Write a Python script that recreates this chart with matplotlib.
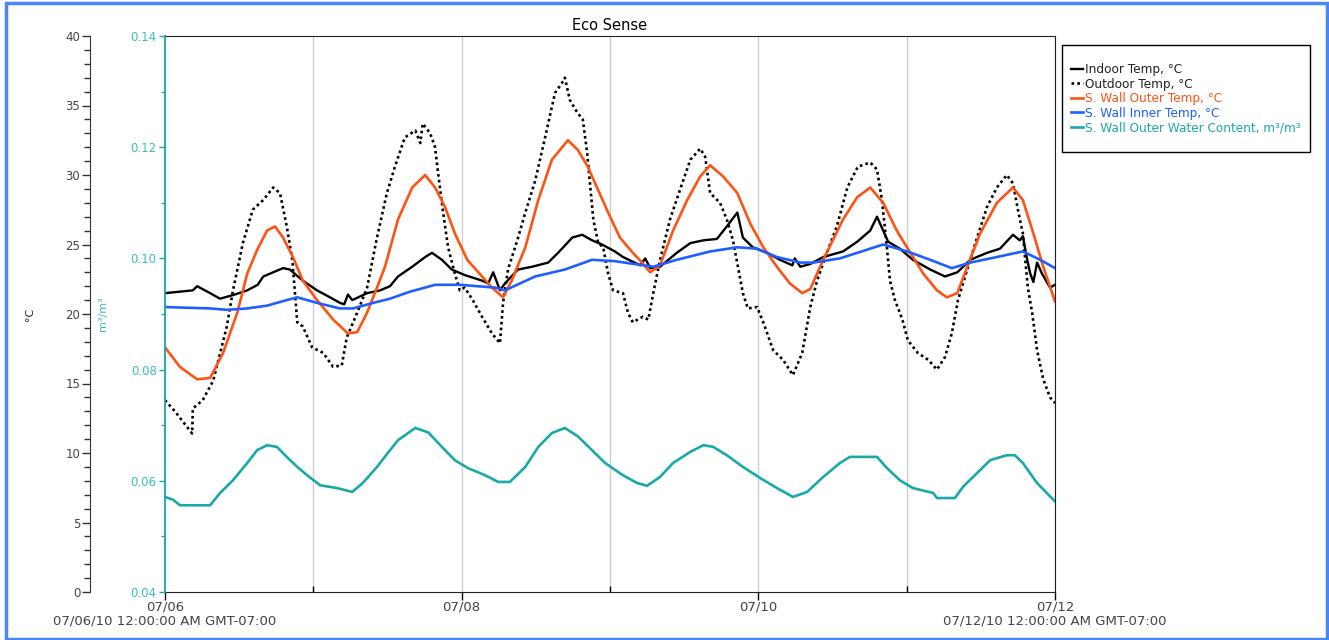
import matplotlib
matplotlib.use('Agg')
import matplotlib.pyplot as plt
from matplotlib.patches import Rectangle
from matplotlib.ticker import MultipleLocator, FixedLocator

# hours since 07/06/10 00:00 (GMT-07:00) and readings for each sensor
outdoor_h = [0.0, 1.6, 4.4, 4.5, 6.1, 7.8, 10.0, 11.0, 12.6, 14.2, 15.9, 17.5, 18.6, 19.7,
             20.6, 21.4, 22.3, 23.8, 25.6, 27.2, 28.6, 29.4, 31.1, 32.7, 34.3, 35.9, 37.2,
             38.8, 40.5, 41.3, 41.7, 42.9, 43.7, 44.2, 45.0, 45.8, 46.9, 47.7, 48.5, 49.8,
             51.3, 52.9, 54.2, 54.7, 55.5, 57.0, 58.3, 59.9, 61.5, 63.1, 64.2, 64.7, 65.5,
             66.7, 67.6, 68.3, 69.3, 70.1, 70.9, 71.7, 72.5, 74.1, 74.9, 75.7, 77.3, 78.2,
             79.0, 80.1, 81.7, 83.3, 85.0, 86.6, 87.4, 88.2, 89.8, 90.9, 91.9, 92.7, 93.5,
             94.3, 95.8, 96.8, 98.4, 100.0, 101.6, 103.1, 104.4, 105.5, 107.1, 108.7, 110.4,
             112.1, 114.1, 115.2, 116.0, 116.8, 117.3, 118.1, 119.3, 120.2, 121.8, 123.5,
             124.9, 126.2, 127.3, 128.3, 129.8, 131.4, 133.0, 134.6, 136.2, 137.2, 138.0,
             138.8, 139.6, 140.3, 141.1, 142.1, 143.2, 144.0]
outdoor_t = [13.8, 13.0, 11.4, 13.2, 13.8, 15.2, 19.1, 21.7, 25.1, 27.5, 28.2, 29.1, 28.7, 26.3,
             23.9, 19.4, 19.1, 17.6, 17.2, 16.2, 16.3, 18.3, 20.1, 21.9, 25.5, 28.7, 30.6,
             32.7, 33.2, 32.3, 33.7, 33.0, 32.0, 30.1, 27.3, 24.8, 22.9, 21.7, 21.9, 21.0,
             19.8, 18.6, 17.9, 20.8, 23.2, 25.3, 27.3, 29.6, 32.7, 35.9, 36.6, 37.0, 35.4,
             34.5, 34.0, 31.6, 26.8, 25.1, 24.8, 22.9, 21.7, 21.5, 20.1, 19.4, 19.8, 19.6,
             21.5, 23.9, 26.8, 28.9, 31.1, 31.9, 31.3, 28.7, 28.0, 26.8, 25.3, 23.4, 21.5,
             20.4, 20.5, 19.4, 17.4, 16.7, 15.6, 17.2, 20.5, 22.4, 24.4, 26.3, 29.1,
             30.6, 30.9, 30.4, 28.2, 24.8, 22.4, 21.0, 19.6, 18.1, 17.2, 16.7,
             16.0, 16.9, 18.6, 21.0, 23.2, 25.5, 27.7, 29.1, 30.0, 29.4, 27.5,
             25.8, 21.9, 20.1, 17.4, 15.3, 14.0, 13.6]

indoor_h = [0.0, 4.5, 5.2, 7.3, 8.9, 11.3, 13.3, 15.0, 15.9, 17.5, 19.1, 20.2, 22.3, 24.6,
            26.7, 28.3, 29.0, 29.6, 30.3, 32.7, 34.8, 36.4, 37.7, 40.0, 42.1, 43.2, 44.8,
            46.4, 48.5, 51.3, 52.3, 53.1, 54.2, 55.0, 57.1, 59.4, 62.0, 63.6, 65.9, 67.5,
            69.1, 70.7, 72.8, 74.1, 76.9, 77.7, 78.5, 80.1, 82.8, 85.0, 87.1, 89.3, 90.9,
            92.6, 93.5, 95.1, 97.4, 99.5, 101.5, 101.9, 102.8, 104.4, 106.5, 109.7, 112.0,
            114.1, 115.2, 116.2, 117.0, 118.9, 121.0, 123.8, 126.2, 128.2, 130.3, 133.0,
            135.1, 137.2, 138.3, 138.8, 139.5, 140.0, 140.5, 141.1, 141.9, 143.2, 144.0]
indoor_t = [21.5, 21.7, 22.0, 21.5, 21.1, 21.4, 21.7, 22.1, 22.7, 23.0, 23.3, 23.2, 22.4, 21.7,
            21.2, 20.8, 20.7, 21.4, 21.0, 21.5, 21.7, 22.0, 22.7, 23.4, 24.1, 24.4, 23.9,
            23.2, 22.8, 22.4, 22.2, 23.0, 21.7, 22.2, 23.2, 23.4, 23.7, 24.4, 25.5, 25.7,
            25.3, 25.0, 24.5, 24.1, 23.5, 24.0, 23.3, 23.4, 24.4, 25.1, 25.3, 25.4, 26.3,
            27.3, 25.5, 24.8, 24.4, 23.9, 23.5, 24.0, 23.4, 23.6, 24.1, 24.5, 25.2,
            26.0, 27.0, 26.0, 25.2, 24.7, 23.9, 23.2, 22.7, 23.0, 23.9, 24.4,
            24.7, 25.7, 25.3, 25.6, 23.9, 22.9, 22.3, 23.7, 22.9, 21.9, 22.1]

outer_h = [0.0, 2.4, 5.2, 7.3, 9.4, 11.7, 13.3, 14.9, 16.5, 17.8, 19.1, 20.7, 22.3, 24.6, 27.2,
           29.6, 31.1, 32.7, 34.3, 35.6, 37.7, 40.0, 42.1, 43.7, 45.3, 46.9, 48.9, 51.3, 52.9,
           54.7, 56.1, 58.3, 60.4, 62.6, 65.2, 66.8, 68.4, 70.1, 71.7, 73.6, 75.7, 77.2, 78.5,
           80.1, 82.2, 84.5, 86.6, 88.2, 90.3, 92.6, 94.7, 96.8, 99.0, 101.1, 103.1, 104.4,
           106.5, 109.7, 112.0, 114.1, 116.2, 118.4, 120.6, 122.7, 124.9, 126.5, 128.2,
           129.8, 131.9, 134.6, 137.2, 138.8, 140.5, 142.1, 144.0]
outer_t = [17.6, 16.2, 15.3, 15.4, 17.2, 20.1, 22.9, 24.6, 26.0, 26.3, 25.5, 24.1, 22.4, 21.0, 19.6,
           18.6, 18.7, 20.1, 21.9, 23.4, 26.8, 29.1, 30.0, 29.1, 27.7, 25.8, 23.9, 22.7, 21.9,
           21.2, 22.4, 24.8, 28.2, 31.1, 32.5, 31.8, 30.6, 28.9, 27.3, 25.5, 24.4, 23.7, 23.0,
           23.5, 26.0, 28.2, 29.9, 30.7, 29.9, 28.7, 26.5, 24.8, 23.4, 22.2, 21.5, 21.8,
           23.9, 26.8, 28.4, 29.1, 28.0, 26.0, 24.4, 22.9, 21.7, 21.2, 21.5,
           23.4, 25.8, 28.0, 29.1, 28.2, 25.8, 23.4, 20.9]

inner_h = [0.0, 7.3, 10.0, 13.3, 16.5, 19.7, 21.4, 24.6, 28.3, 30.4, 33.7, 36.4, 39.6, 43.7,
           47.7, 53.4, 55.0, 59.9, 64.7, 69.1, 72.8, 79.0, 82.8, 88.2, 92.6, 95.8, 99.0,
           102.8, 104.9, 109.2, 112.0, 116.2, 120.1, 123.8, 127.3, 130.3, 134.6, 138.8,
           141.6, 144.0]
inner_t = [20.5, 20.4, 20.3, 20.4, 20.6, 21.0, 21.2, 20.8, 20.4, 20.4, 20.8, 21.1, 21.6, 22.1,
           22.1, 21.9, 21.7, 22.7, 23.2, 23.9, 23.8, 23.4, 23.9, 24.5, 24.8, 24.7, 24.1,
           23.7, 23.7, 24.0, 24.4, 25.0, 24.5, 23.9, 23.3, 23.7, 24.1, 24.5,
           23.9, 23.3]

water_h = [0.0, 1.3, 2.4, 7.3, 8.9, 11.0, 13.3, 14.9, 16.5, 18.1, 19.7, 21.4, 23.0, 25.1, 27.8,
           30.3, 32.0, 34.3, 36.4, 37.7, 40.5, 42.6, 44.8, 46.9, 49.0, 51.8, 53.9, 55.8, 58.3,
           60.4, 62.6, 64.7, 66.8, 69.1, 71.2, 74.1, 76.4, 78.0, 80.1, 82.2, 85.0, 87.1, 88.7,
           90.9, 93.5, 96.3, 99.0, 101.6, 103.9, 106.5, 109.2, 110.8, 115.2, 116.8, 118.9,
           121.0, 124.3, 124.9, 127.8, 129.1, 131.4, 133.5, 136.2, 137.5, 138.8, 141.1, 144.0]
water_vwc = [0.0571, 0.0566, 0.0556, 0.0556, 0.0578, 0.0601, 0.0632, 0.0655, 0.0664, 0.0661,
             0.0643, 0.0625, 0.0610, 0.0592, 0.0587, 0.0580, 0.0596, 0.0625, 0.0655, 0.0673,
             0.0695, 0.0687, 0.0661, 0.0637, 0.0623, 0.0610, 0.0598, 0.0598, 0.0625, 0.0661,
             0.0686, 0.0695, 0.0680, 0.0655, 0.0632, 0.0610, 0.0596, 0.0591, 0.0607, 0.0632,
             0.0652, 0.0664, 0.0661, 0.0646, 0.0625, 0.0605, 0.0587, 0.0571, 0.0580, 0.0607,
             0.0632, 0.0643, 0.0643, 0.0623, 0.0601, 0.0587, 0.0578, 0.0569, 0.0569, 0.0589,
             0.0614, 0.0637, 0.0646, 0.0646, 0.0632, 0.0596, 0.0563]

day_ticks = [0, 48, 96, 144]
day_labels = ['07/06\n07/06/10 12:00:00 AM GMT-07:00', '07/08', '07/10',
              '07/12\n07/12/10 12:00:00 AM GMT-07:00']
odd_days = [24, 72, 120]

TEAL = '#1aa9a9'
TEAL_TXT = '#3cbdbd'
ORANGE = '#ff5215'
BLUE = '#1f5fff'
GREY_TXT = '#444444'

plt.rcParams['font.family'] = 'DejaVu Sans'

fig = plt.figure(figsize=(13.29, 6.4), dpi=100)
ax = fig.add_axes([165 / 1329, 48 / 640, 890 / 1329, 556 / 640])
ax2 = ax.twinx()

l_in, = ax.plot(indoor_h, indoor_t, color='black', lw=1.7, label='Indoor Temp, °C')
l_out, = ax.plot(outdoor_h, outdoor_t, color='black', lw=1.9, ls=(0, (1, 1.2)),
                 label='Outdoor Temp, °C')
l_so, = ax.plot(outer_h, outer_t, color=ORANGE, lw=1.9, label='S. Wall Outer Temp, °C')
l_si, = ax.plot(inner_h, inner_t, color=BLUE, lw=1.9, label='S. Wall Inner Temp, °C')
l_w, = ax2.plot(water_h, water_vwc, color=TEAL, lw=1.9,
                label='S. Wall Outer Water Content, m³/m³')

# temperature axis, pushed out to the left
ax.set_xlim(0, 144)
ax.set_ylim(0, 40)
ax.spines['left'].set_position(('outward', 54))
ax.spines['left'].set_color('#333333')
ax.yaxis.set_major_locator(MultipleLocator(5))
ax.yaxis.set_minor_locator(MultipleLocator(1))
ax.tick_params(axis='y', which='major', length=6, width=1, colors='#333333',
               labelcolor=GREY_TXT, labelsize=8.5, pad=1)
ax.tick_params(axis='y', which='minor', length=4, width=1, colors='#333333')
ax.set_ylabel('°C', fontsize=8, color='#222222')
ax.yaxis.set_label_coords(-0.146, 0.5)

# time axis
ax.xaxis.set_major_locator(FixedLocator(day_ticks))
ax.set_xticklabels(day_labels, linespacing=1.1)
ax.xaxis.set_minor_locator(FixedLocator(odd_days))
ax.tick_params(axis='x', which='major', direction='out', length=6, width=1,
               labelsize=9.5, labelcolor=GREY_TXT, pad=0)
ax.tick_params(axis='x', which='minor', direction='in', length=4, width=1)
ax.grid(axis='x', which='both', color='#cfcfcf', lw=1)
ax.set_axisbelow(True)
for s in ['top', 'right', 'bottom']:
    ax.spines[s].set_color('#222222')

# water content axis on the plot's own left edge
ax2.set_ylim(0.04, 0.14)
ax2.yaxis.tick_left()
ax2.yaxis.set_label_position('left')
ax2.spines['left'].set_visible(True)
ax2.spines['left'].set_color(TEAL)
ax2.spines['left'].set_linewidth(1.3)
ax2.spines['right'].set_visible(False)
ax2.spines['top'].set_visible(False)
ax2.spines['bottom'].set_visible(False)
ax2.yaxis.set_major_locator(MultipleLocator(0.02))
ax2.yaxis.set_minor_locator(MultipleLocator(0.01))
ax2.yaxis.set_major_formatter(lambda v, pos: f'{v:.2f}')
ax2.tick_params(axis='y', which='major', length=4, width=1, colors=TEAL,
                labelcolor=TEAL_TXT, labelsize=8.5, pad=2)
ax2.tick_params(axis='y', which='minor', length=3, width=1, colors=TEAL)
ax2.set_ylabel('m³/m³', fontsize=8, color=TEAL_TXT)
ax2.yaxis.set_label_coords(-0.064, 0.5)

ax.set_title('Eco Sense', fontsize=10.5, pad=4)

# legend without its own frame; the box is drawn separately
leg = fig.legend(handles=[l_in, l_out, l_so, l_si, l_w], loc='upper left',
                 bbox_to_anchor=(1071 / 1329, 1 - 63 / 640), fontsize=8.7,
                 handlelength=1.0, handletextpad=0.15, labelspacing=0.13,
                 borderpad=0, borderaxespad=0, frameon=False)
for txt, col in zip(leg.get_texts(), ['#222222', '#222222', ORANGE, BLUE, TEAL]):
    txt.set_color(col)
fig.patches.append(Rectangle((1062 / 1329, 1 - 152 / 640), 248 / 1329, 107 / 640,
                             transform=fig.transFigure, fill=False,
                             edgecolor='black', lw=1))

# blue frame around the whole panel
fig.patches.append(Rectangle((6 / 1329, 1.5 / 640), 1321 / 1329, 636 / 640,
                             transform=fig.transFigure, fill=False,
                             edgecolor='#4a86f5', lw=2.5))

fig.savefig('out.png', dpi=100)
